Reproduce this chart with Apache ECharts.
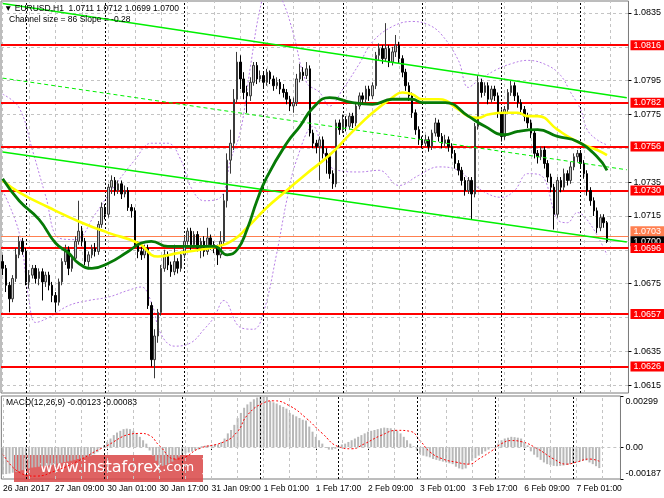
<!DOCTYPE html>
<html>
<head>
<meta charset="utf-8">
<script src="https://cdn.jsdelivr.net/npm/echarts@6/dist/echarts.min.js"></script>
<style>
  html, body { margin: 0; padding: 0; background: #fff; }
  #chart { width: 664px; height: 498px; }
</style>
</head>
<body>
<div id="chart"></div>
<script>
// prices are kept in pips above 1.0600, MACD in units of 0.00001
const BASE = 1.06, PIP = 0.0001, MACD_UNIT = 0.00001;
const SLOTS = 190; // hourly bars incl. the empty shift on the right

const timeLabels = ['26 Jan 2017', '27 Jan 09:00', '30 Jan 01:00', '30 Jan 17:00', '31 Jan 09:00',
  '1 Feb 01:00', '1 Feb 17:00', '2 Feb 09:00', '3 Feb 01:00', '3 Feb 17:00', '6 Feb 09:00', '7 Feb 01:00'];

// [open, close, low, high]
const ohlc = [
  [88,84,80,92],[84,74,70,86],[74,66,58,76],[66,78,64,80],[78,92,76,96],[92,100,90,103],[100,94,92,102],[94,76,74,96],
  [76,80,72,83],[80,84,78,86],[84,78,75,86],[78,82,74,84],[82,76,65,84],[76,80,73,82],[80,74,71,82],[74,68,64,76],
  [68,64,58,70],[64,76,62,78],[76,88,74,90],[88,95,86,98],[95,84,80,97],[84,90,82,92],[90,100,88,103],[100,106,98,124],
  [106,100,97,109],[100,88,86,102],[88,92,85,94],[92,96,90,98],[96,94,91,99],[94,110,92,112],[110,120,108,123],[120,116,113,122],
  [116,132,114,134],[132,136,128,139],[136,130,127,138],[130,134,128,136],[134,128,125,136],[128,130,126,133],[130,120,118,132],[120,118,114,122],
  [118,98,96,120],[98,94,90,100],[94,92,89,97],[92,96,90,98],[96,62,60,98],[62,30,26,64],[30,44,19,48],[44,58,40,60],
  [58,84,56,86],[84,92,82,95],[92,86,83,94],[86,82,79,88],[82,88,80,98],[88,84,81,90],[84,92,82,94],[92,100,90,103],
  [100,106,98,108],[106,98,95,108],[98,104,96,106],[104,96,94,106],[96,100,90,102],[100,94,91,103],[94,102,92,108],[102,98,95,104],
  [98,96,93,100],[96,92,86,98],[92,100,90,106],[100,124,98,128],[124,148,120,152],[148,158,140,166],[158,184,154,190],[184,206,182,212],
  [206,196,190,210],[196,188,184,200],[188,186,176,192],[186,194,183,197],[194,204,192,206],[204,196,193,206],[196,198,194,201],[198,194,191,200],
  [194,200,192,202],[200,196,193,201],[196,192,189,198],[192,194,190,197],[194,190,187,196],[190,188,185,193],[188,184,181,190],[184,180,177,186],
  [180,182,176,185],[182,196,180,199],[196,200,194,205],[200,198,195,203],[198,202,196,206],[202,164,162,204],[164,158,155,166],[158,156,152,160],
  [156,160,136,162],[160,152,149,162],[152,150,140,155],[150,140,137,152],[140,134,131,142],[134,170,132,172],[170,166,163,172],[166,172,164,175],
  [172,168,165,174],[168,174,166,176],[174,170,167,176],[170,180,168,182],[180,186,178,188],[186,184,181,188],[184,190,182,192],[190,186,183,192],
  [186,192,184,194],[192,210,190,212],[210,214,207,217],[214,208,205,216],[208,214,206,229],[214,206,203,216],[206,212,204,215],[212,216,209,222],
  [216,208,205,218],[208,200,197,210],[200,192,189,202],[192,186,183,194],[186,176,173,188],[176,166,163,178],[166,160,157,168],[160,158,155,162],
  [158,160,156,163],[160,156,153,162],[156,164,154,166],[164,170,162,173],[170,162,159,172],[162,158,155,164],[158,160,156,163],[160,156,153,162],
  [156,152,149,158],[152,146,143,154],[146,142,139,148],[142,136,133,144],[136,130,127,138],[130,136,128,138],[136,128,113,138],[128,168,126,170],
  [168,194,166,198],[194,188,185,196],[188,192,186,194],[192,184,181,194],[184,190,182,192],[190,186,183,192],[186,176,173,188],[176,162,159,178],
  [162,178,160,180],[178,188,176,190],[188,192,186,195],[192,186,183,194],[186,182,179,188],[182,178,175,184],[178,174,171,180],[174,170,167,176],
  [170,164,161,172],[164,152,149,166],[152,150,146,154],[150,154,148,156],[154,146,143,156],[146,138,135,148],[138,132,129,140],[132,116,107,134],
  [116,136,114,138],[136,132,129,138],[132,140,130,143],[140,136,133,142],[136,144,134,147],[144,150,142,152],[150,152,147,154],[152,146,143,154],
  [146,140,137,148],[140,130,127,142],[130,124,121,132],[124,118,115,126],[118,108,105,120],[108,114,106,116],[114,111,108,116],[111,100,99,112]
];

// moving averages, bands and channel: [bar index, pips]
const maYellow = [[0,136],[5,129],[14,120],[24,111],[32,105],[41,99],[47,91],[53,93],[65,97],[70,101],[74,108],[80,120],
  [86,130],[92,140],[99,151],[106,165],[112,176],[118,185],[121,188],[124,187],[127,184],[132,184],[138,178],[141,174],
  [144,173],[147,175],[152,176],[156,176],[159,174],[162,174],[168,166],[172,161],[176,157],[180,154],[183,151]];
const maGreen = [[0,137],[5,124],[11,113],[16,99],[20,93],[23,87],[27,84],[32,87],[38,94],[42,99],[45,100],[50,97],
  [56,97],[64,97],[68,92],[71,95],[74,107],[77,124],[80,138],[86,158],[90,168],[94,179],[99,185],[106,182],[112,181],
  [118,184],[124,184],[127,182],[134,182],[141,174],[146,168],[152,163],[156,165],[162,166],[168,162],[174,159],[180,150],[183,142]];
const bandUpper = [[0,187],[5,179],[9,154],[13,127],[17,102],[22,101],[28,116],[34,133],[40,148],[45,158],[50,158],[54,148],
  [57,132],[61,124],[66,126],[69,148],[72,165],[75,203],[78,238],[81,255],[85,241],[88,223],[92,194],[96,188],[99,180],
  [103,190],[108,205],[112,218],[118,227],[124,230],[129,228],[133,222],[138,207],[141,191],[144,195],[149,201],[154,205],
  [159,207],[165,204],[169,198],[172,188],[175,178],[177,166],[180,160],[183,157]];
const bandLower = [[0,130],[5,105],[8,65],[10,52],[14,55],[20,62],[26,65],[32,67],[38,71],[42,73],[45,64],[48,45],[52,38],
  [57,40],[61,48],[64,55],[67,65],[72,49],[76,48],[79,58],[83,93],[86,124],[89,148],[94,168],[97,154],[100,143],[108,141],
  [114,142],[120,133],[126,139],[132,144],[138,142],[142,135],[146,129],[151,126],[155,130],[159,140],[163,139],[168,113],
  [171,111],[174,117],[178,110],[183,92]];
const channelUpper = [[0,240.6],[189,184.9]];
const channelMid = [[0,196.5],[189,142.3]];
const channelLower = [[0,152.8],[189,99.6]];

const levels = [1.0816, 1.0782, 1.0756, 1.0730, 1.0696, 1.0657, 1.0626];
const askPrice = 1.0703, bidPrice = 1.0700;
const priceGrid = [1.0835, 1.0815, 1.0795, 1.0775, 1.0755, 1.0735, 1.0715, 1.0695, 1.0675, 1.0655, 1.0635, 1.0615];
const priceLabels = [1.0835, 1.0795, 1.0775, 1.0735, 1.0715, 1.0675, 1.0635, 1.0615];

const macdMain = [
  -160,-158,-155,-150,-145,-140,-135,-130,-125,-120,-118,-115,-112,-110,-108,-105,
  -100,-96,-92,-88,-84,-80,-75,-70,-65,-60,-55,-50,-42,-30,
  -10,10,30,50,70,85,95,105,108,105,95,80,60,40,20,
  -20,-50,-80,-100,-110,-105,-95,-85,-70,-55,-45,-38,-32,-26,-20,-14,
  5,8,10,12,15,15,30,50,80,100,130,170,200,230,250,265,280,290,295,299,295,
  270,262,255,245,235,225,200,190,180,170,160,155,120,90,60,40,20,-5,-15,-15,-10,
  5,15,20,30,40,50,60,70,80,90,95,100,105,110,114,112,110,100,95,80,60,40,20,5,-20,
  -40,-50,-55,-60,-70,-75,-80,-85,-90,-95,-100,-115,-125,-130,-125,-100,-80,-65,-50,-40,
  -25,-15,-5,0,20,40,50,55,60,58,55,50,30,10,-25,-45,-60,-75,
  -90,-100,-105,-110,-112,-110,-108,-105,-100,-95,-90,-85,-80,-78,-90,-100,-112,-123
];
const macdSignal = [[0,-40],[5,-148],[10,-170],[16,-140],[23,-82],[30,-10],[42,80],[45,68],[48,8],[53,-70],[56,-58],
  [60,-10],[68,32],[72,92],[75,187],[80,259],[83,271],[88,241],[93,170],[98,80],[103,2],[107,-10],[111,20],[116,68],
  [121,98],[125,92],[128,38],[131,-28],[135,-70],[139,-88],[143,-100],[146,-70],[150,-22],[153,20],[156,38],[159,32],
  [164,-10],[169,-70],[173,-100],[176,-88],[180,-70],[183,-83]];
const macdScale = [0.00299, 0, -0.00187];

const gridEvery = 8;
const daySeparators = [7, 31, 55, 79, 103, 127, 151, 175];

const price = v => +(BASE + v * PIP).toFixed(5);
const toPrice = pts => pts.map(([i, v]) => [i, price(v)]);
const candles = ohlc.map(r => r.map(price));
const slots = Array.from({ length: SLOTS }, (_, i) => String(i));
const vLines = slots.filter((_, i) => i % gridEvery === 0);
const last = candles[candles.length - 1];

const FONT = 'Liberation Sans';
const gridLine = { color: '#c4c4c4', width: 1, type: [3, 3] };
const dayLine = { color: '#000', width: 1, type: [2, 2] };

const verticalMarks = [
  ...vLines.map(i => ({ xAxis: i, lineStyle: gridLine })),
  ...daySeparators.map(i => ({ xAxis: String(i), lineStyle: dayLine }))
];

function levelMark(value, lineColor, width, boxColor, shift) {
  return {
    yAxis: value,
    lineStyle: { color: lineColor, width: width, type: 'solid' },
    label: {
      show: true, position: 'end', distance: 2,
      formatter: p => p.value.toFixed(4),
      color: '#fff', backgroundColor: boxColor,
      offset: [0, shift || 0],
      padding: [1, 6, 0, 3], fontSize: 9, fontFamily: FONT
    }
  };
}

const chart = echarts.init(document.getElementById('chart'));

chart.setOption({
  animation: false,
  backgroundColor: '#fff',
  grid: [
    { left: 1, right: 34, top: 1, height: 392, show: true, borderColor: '#7a7a7a', borderWidth: 1, backgroundColor: '#fff' },
    { left: 1, right: 34, top: 396, height: 83, show: true, borderColor: '#7a7a7a', borderWidth: 1, backgroundColor: '#fff' }
  ],
  xAxis: [
    { type: 'category', gridIndex: 0, data: slots, boundaryGap: true, show: false },
    {
      type: 'category', gridIndex: 1, data: slots, boundaryGap: true,
      axisLine: { show: false },
      axisTick: {
        show: true, alignWithLabel: true, length: 3, lineStyle: { color: '#000' },
        interval: i => i % 16 === 0 && i / 16 < timeLabels.length
      },
      axisLabel: {
        interval: i => i % 16 === 0 && i / 16 < timeLabels.length,
        formatter: (v, i) => timeLabels[i / 16] || '',
        align: 'left', margin: 5, fontSize: 8.5, fontFamily: FONT, color: '#000'
      },
      splitLine: { show: false }
    }
  ],
  yAxis: [
    {
      type: 'value', gridIndex: 0, position: 'right', min: 1.06103, max: 1.08421, scale: true,
      axisLine: { show: false }, splitLine: { show: false },
      axisTick: { show: true, customValues: priceLabels, length: 3, lineStyle: { color: '#000' } },
      axisLabel: { customValues: priceLabels, formatter: v => v.toFixed(4), margin: 5, fontSize: 9, fontFamily: FONT, color: '#000' }
    },
    {
      type: 'value', gridIndex: 1, position: 'right', min: -0.00187, max: 0.00299,
      axisLine: { show: false }, splitLine: { show: false },
      axisTick: { show: true, customValues: macdScale, length: 3, lineStyle: { color: '#000' } },
      axisLabel: {
        customValues: macdScale, margin: 5, fontSize: 9, fontFamily: FONT, color: '#000',
        formatter: v => v > 0 ? '{t|' + v.toFixed(5) + '}' : v < 0 ? '{b|' + v.toFixed(5) + '}' : '0.00',
        rich: {
          t: { padding: [11, 0, 0, 0], fontSize: 9, fontFamily: FONT, color: '#000' },
          b: { padding: [0, 0, 11, 0], fontSize: 9, fontFamily: FONT, color: '#000' }
        }
      }
    }
  ],
  series: [
    {
      name: 'grid', type: 'line', xAxisIndex: 0, yAxisIndex: 0, data: [], z: 1, silent: true,
      markLine: {
        silent: true, symbol: 'none', animation: false, precision: 5, label: { show: false },
        data: [...priceGrid.map(p => ({ yAxis: p, lineStyle: gridLine })), ...verticalMarks]
      }
    },
    {
      name: 'bands upper', type: 'line', xAxisIndex: 0, yAxisIndex: 0, data: toPrice(bandUpper), z: 3,
      smooth: 0.4, showSymbol: false, silent: true, lineStyle: { color: '#b77ee6', width: 1, type: [2, 2] }
    },
    {
      name: 'bands lower', type: 'line', xAxisIndex: 0, yAxisIndex: 0, data: toPrice(bandLower), z: 3,
      smooth: 0.4, showSymbol: false, silent: true, lineStyle: { color: '#b77ee6', width: 1, type: [2, 2] }
    },
    {
      name: 'EURUSD', type: 'candlestick', xAxisIndex: 0, yAxisIndex: 0, data: candles, z: 5,
      barWidth: 2,
      itemStyle: { color: '#c4c4c4', color0: '#000', borderColor: '#3a3a3a', borderColor0: '#000', borderWidth: 1 }
    },
    {
      name: 'levels', type: 'line', xAxisIndex: 0, yAxisIndex: 0, data: [], z: 6, silent: true,
      markLine: {
        silent: true, symbol: 'none', animation: false, precision: 5,
        data: [
          levelMark(askPrice, '#ff8050', 1, '#ff7f50', -5),
          levelMark(bidPrice, '#c8c8c8', 1, '#000'),
          ...levels.map(v => levelMark(v, '#ff0000', 2, '#ff0000'))
        ]
      }
    },
    {
      name: 'channel upper', type: 'line', xAxisIndex: 0, yAxisIndex: 0, data: toPrice(channelUpper), z: 6,
      showSymbol: false, silent: true, lineStyle: { color: '#00f000', width: 1.6 }
    },
    {
      name: 'channel mid', type: 'line', xAxisIndex: 0, yAxisIndex: 0, data: toPrice(channelMid), z: 6,
      showSymbol: false, silent: true, lineStyle: { color: '#00f000', width: 1, type: [4, 3] }
    },
    {
      name: 'channel lower', type: 'line', xAxisIndex: 0, yAxisIndex: 0, data: toPrice(channelLower), z: 6,
      showSymbol: false, silent: true, lineStyle: { color: '#00f000', width: 1.6 }
    },
    {
      name: 'MA yellow', type: 'line', xAxisIndex: 0, yAxisIndex: 0, data: toPrice(maYellow), z: 7,
      smooth: 0.5, showSymbol: false, silent: true, lineStyle: { color: '#ffff00', width: 2.6 }
    },
    {
      name: 'MA green', type: 'line', xAxisIndex: 0, yAxisIndex: 0, data: toPrice(maGreen), z: 7,
      smooth: 0.5, showSymbol: false, silent: true, lineStyle: { color: '#067a06', width: 2.8 }
    },
    {
      name: 'macd grid', type: 'line', xAxisIndex: 1, yAxisIndex: 1, data: [], z: 1, silent: true,
      markLine: {
        silent: true, symbol: 'none', animation: false, precision: 6, label: { show: false },
        data: [{ yAxis: 0, lineStyle: gridLine }, ...verticalMarks]
      }
    },
    {
      name: 'MACD', type: 'bar', xAxisIndex: 1, yAxisIndex: 1, z: 3, silent: true,
      data: macdMain.map(v => +(v * MACD_UNIT).toFixed(6)),
      barWidth: 2, itemStyle: { color: '#b8b8b8' }
    },
    {
      name: 'Signal', type: 'line', xAxisIndex: 1, yAxisIndex: 1, z: 4, silent: true,
      data: macdSignal.map(([i, v]) => [i, +(v * MACD_UNIT).toFixed(6)]),
      smooth: 0.5, showSymbol: false, lineStyle: { color: '#ff0000', width: 1, type: [2, 2] }
    }
  ],
  graphic: [
    {
      type: 'text', left: 4, top: 4, z: 20,
      style: {
        text: '\u25BC EURUSD,H1  ' + last[0].toFixed(4) + ' ' + last[3].toFixed(4) + ' ' + last[2].toFixed(4) + ' ' + last[1].toFixed(4),
        font: '8.5px "Liberation Sans"', fill: '#000'
      }
    },
    {
      type: 'text', left: 9, top: 15, z: 20,
      style: { text: 'Channel size = 86 Slope = -0.28', font: '8.5px "Liberation Sans"', fill: '#000' }
    },
    {
      type: 'text', left: 6, top: 398, z: 20,
      style: {
        text: 'MACD(12,26,9) ' + (macdMain[macdMain.length - 1] * MACD_UNIT).toFixed(5) + ' ' +
          (macdSignal[macdSignal.length - 1][1] * MACD_UNIT).toFixed(5),
        font: '8.5px "Liberation Sans"', fill: '#000'
      }
    },
    {
      type: 'group', left: 14, top: 455, z: 30,
      children: [
        { type: 'rect', shape: { x: 0, y: 0, width: 189, height: 27 }, style: { fill: 'rgba(218,72,72,0.86)' } },
        {
          type: 'text', x: 9, y: 4,
          style: {
            text: '{b|[}   {w|www.instaforex}{c|.com}  {b|]}',
            rich: {
              b: { fontSize: 17, fontFamily: 'DejaVu Sans', fill: '#fff' },
              w: { fontSize: 16, fontFamily: 'DejaVu Sans', fill: '#fff' },
              c: { fontSize: 13, fontFamily: 'DejaVu Sans', fill: '#fff' }
            }
          }
        }
      ]
    }
  ]
});
</script>
</body>
</html>
